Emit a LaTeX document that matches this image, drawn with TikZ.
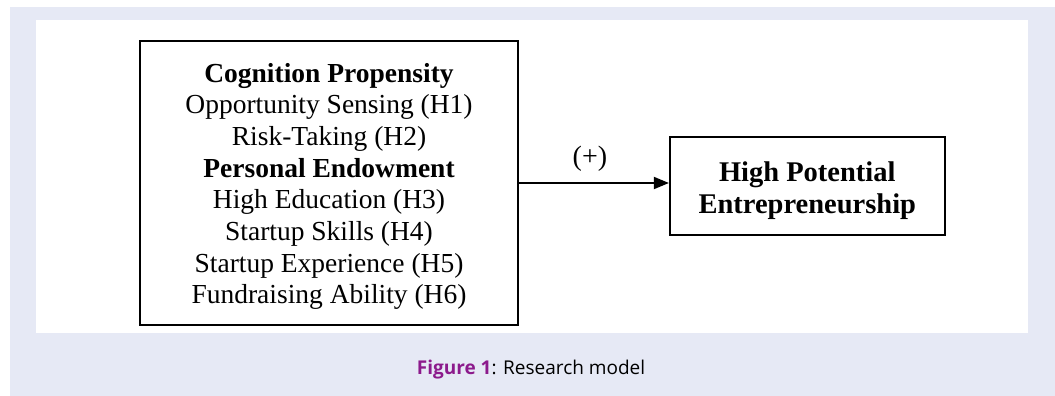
\documentclass[tikz,border=0pt]{standalone}
\usepackage{fontspec}
\setmainfont{Liberation Serif}
\newfontfamily\captionfont{Open Sans}
\usetikzlibrary{positioning, arrows.meta}
\definecolor{panelbg}{RGB}{230,233,245}
\definecolor{figpurple}{RGB}{140,26,140}
\tikzstyle{arrow} = [line width=1.8pt,->,>={Triangle[length=15pt,width=12pt]}]
\tikzstyle{construct} = [rectangle, draw=black, line width=1.8pt, align=center, font={\fontsize{27.5}{31.7}\selectfont}]

\begin{document}
\begin{tikzpicture}[x=1pt, y=-1pt]
\useasboundingbox (0,0) rectangle (1055,396);
% background panels
\fill[panelbg] (10,7) rectangle (1055,396);
\fill[white] (36,20) rectangle (1028,333);

% construct boxes
\node (predictors) [construct, minimum width=378pt, minimum height=284pt] at (329,183)
  {\rule{0pt}{26pt}\textbf{Cognition Propensity}\\Opportunity Sensing (H1)\\Risk-Taking (H2)\\\textbf{Personal Endowment}\\High Education (H3)\\Startup Skills (H4)\\Startup Experience (H5)\\Fundraising Ability (H6)};
\node (outcome) [construct, font={\fontsize{28.5}{32}\selectfont}, minimum width=275pt, minimum height=98pt, right=150pt of predictors, yshift=-3pt]
  {\rule{0pt}{29.5pt}\textbf{High Potential}\\\textbf{Entrepreneurship}};

% path
\draw [arrow] (predictors.east) -- node[above=7pt, xshift=-4pt, font={\fontsize{28}{32}\selectfont}] {(+)} (predictors.east -| outcome.west);

% caption
\node (caption) at (531,370) {\captionfont\fontsize{19}{23}\selectfont\textcolor{figpurple}{\textbf{Figure 1}}: Research model};
\end{tikzpicture}
\end{document}
